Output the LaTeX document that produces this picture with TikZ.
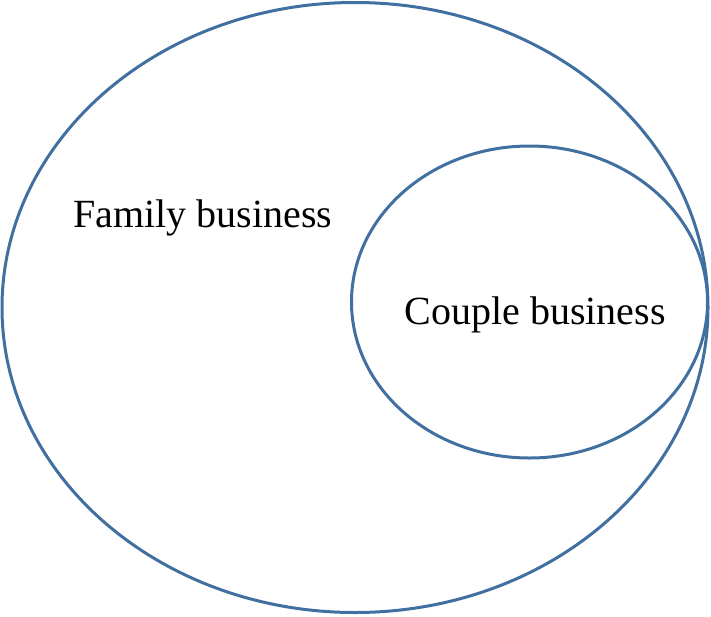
\documentclass[tikz,border=0pt]{standalone}
\usepackage{fontspec}
\setmainfont{Liberation Serif}
\definecolor{ell}{RGB}{65,112,160}
\begin{document}
\begin{tikzpicture}[x=1pt,y=-1pt,
  ring/.style={draw=ell,line width=3pt},
  lbl/.style={font=\fontsize{40}{48}\selectfont,inner sep=0pt}]
\useasboundingbox (0,0) rectangle (711,616);
\draw[ring] (355,307.5) ellipse [x radius=353, y radius=305];
\draw[ring] (529.5,302) ellipse [x radius=178, y radius=156];
\node[lbl] (fam) at (203,218) {Family business};
\node[lbl] (cpl) at (535,315) {Couple business};
\end{tikzpicture}
\end{document}
